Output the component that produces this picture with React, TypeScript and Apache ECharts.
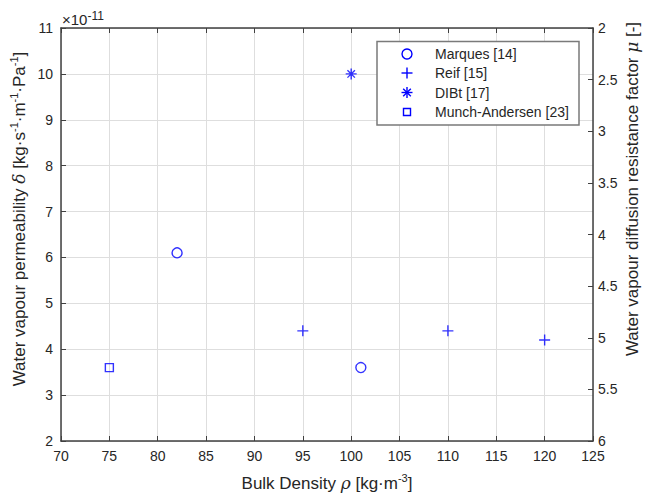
import React, { useEffect, useRef } from 'react';
import * as echarts from 'echarts';

// ---- data ----
const seriesNames = ['Marques [14]', 'Reif [15]', 'DIBt [17]', 'Munch-Andersen [23]'];
const marquesDensity = [82, 101];
const marquesPerm = [6.1, 3.6];
const reifDensity = [95, 110, 120];
const reifPerm = [4.4, 4.4, 4.2];
const dibtDensity = [100];
const dibtPerm = [10];
const munchDensity = [75];
const munchPerm = [3.6];

const densityMin = 70;
const densityMax = 125;
const densityStep = 5;
const permMin = 2;
const permMax = 11;
const permStep = 1;
const muMin = 2;
const muMax = 6;
const muStep = 0.5;

const zip = (xs: number[], ys: number[]) => xs.map((x, i) => [x, ys[i]]);

const FONT = 'Liberation Sans, Arial, sans-serif';
const TEXT = '#262626';
const AXIS = '#404040';
const BLUE = '#0000ff';

const plusPath = 'path://M0,5L10,5M5,0L5,10';
const starPath = 'path://M0,5L10,5M5,0L5,10M1.6,1.6L8.4,8.4M8.4,1.6L1.6,8.4';
const squarePath = 'path://M0,0L10,0L10,10L0,10Z';

export default function App() {
  const ref = useRef<HTMLDivElement>(null);
  useEffect(() => {
    document.body.style.margin = '0';
    if (!ref.current) return;
    const chart = echarts.init(ref.current, null, { renderer: 'svg' });
    const markerStyle = { color: 'rgba(0,0,0,0)', borderColor: BLUE, borderWidth: 1.4 };
    const supStyle = { fontSize: 11, fontFamily: FONT, verticalAlign: 'top' as const, lineHeight: 10, fill: TEXT };
    const greek = { fontSize: 17, fontFamily: 'DejaVu Serif, serif', fontStyle: 'italic' as const, fill: TEXT };
    const nameStyle = (text: string) => ({
      text,
      fontSize: 17,
      fontFamily: FONT,
      fill: TEXT,
      lineHeight: 22,
      align: 'center' as const,
      verticalAlign: 'middle' as const,
      rich: { s: supStyle, g: greek },
    });

    // legend drawn as a graphic group (box, icons, texts)
    const LZ = 100;
    const lgLeft = 377;
    const lgTop = 41.5;
    const lgW = 202;
    const lgH = 83.5;
    const rowY = [12.5, 31.5, 51, 70.5];
    const iconX = 30;
    const textX = 58;
    const iconStroke = { stroke: BLUE, lineWidth: 1.4, fill: 'none' };
    const seg = (x1: number, y1: number, x2: number, y2: number) => ({
      type: 'line',
      z: LZ + 1,
      shape: { x1, y1, x2, y2 },
      style: iconStroke,
    });
    const icons: any[] = [
      { type: 'circle', z: LZ + 1, shape: { cx: iconX, cy: rowY[0], r: 5 }, style: iconStroke },
      seg(iconX - 5.5, rowY[1], iconX + 5.5, rowY[1]),
      seg(iconX, rowY[1] - 5.5, iconX, rowY[1] + 5.5),
      seg(iconX - 5.5, rowY[2], iconX + 5.5, rowY[2]),
      seg(iconX, rowY[2] - 5.5, iconX, rowY[2] + 5.5),
      seg(iconX - 3.8, rowY[2] - 3.8, iconX + 3.8, rowY[2] + 3.8),
      seg(iconX + 3.8, rowY[2] - 3.8, iconX - 3.8, rowY[2] + 3.8),
      { type: 'rect', z: LZ + 1, shape: { x: iconX - 3.5, y: rowY[3] - 3.5, width: 7, height: 7 }, style: iconStroke },
    ];
    const legendTexts = seriesNames.map((name, i) => ({
      type: 'text',
      z: LZ + 1,
      x: textX,
      y: rowY[i],
      style: { text: name, fontSize: 14, fontFamily: FONT, fill: TEXT, align: 'left', verticalAlign: 'middle' },
    }));

    chart.setOption({
      animation: false,
      backgroundColor: '#fff',
      textStyle: { fontFamily: FONT, color: TEXT },
      grid: { left: 61, right: 57, top: 28, bottom: 57, outerBoundsMode: 'none' },
      xAxis: [
        {
          type: 'value',
          min: densityMin,
          max: densityMax,
          interval: densityStep,
          position: 'bottom',
          axisLine: { show: true, lineStyle: { color: AXIS, width: 1.5 } },
          axisTick: { show: true, inside: true, length: 5, lineStyle: { color: AXIS, width: 1 } },
          axisLabel: { color: TEXT, fontSize: 14, fontFamily: FONT, margin: 8 },
          splitLine: { show: true, lineStyle: { color: '#dedede', width: 1 } },
        },
        {
          type: 'value',
          min: densityMin,
          max: densityMax,
          interval: densityStep,
          position: 'top',
          axisLine: { show: true, lineStyle: { color: AXIS, width: 1.5 } },
          axisTick: { show: true, inside: true, length: 5, lineStyle: { color: AXIS, width: 1 } },
          axisLabel: { show: false },
          splitLine: { show: false },
        },
      ],
      yAxis: [
        {
          type: 'value',
          min: permMin,
          max: permMax,
          interval: permStep,
          position: 'left',
          axisLine: { show: true, lineStyle: { color: AXIS, width: 1.5 } },
          axisTick: { show: true, inside: true, length: 5, lineStyle: { color: AXIS, width: 1 } },
          axisLabel: { color: TEXT, fontSize: 14, fontFamily: FONT, margin: 8 },
          splitLine: { show: true, lineStyle: { color: '#dedede', width: 1 } },
        },
        {
          type: 'value',
          min: muMin,
          max: muMax,
          interval: muStep,
          inverse: true,
          position: 'right',
          axisLine: { show: true, lineStyle: { color: AXIS, width: 1.5 } },
          axisTick: { show: true, inside: true, length: 5, lineStyle: { color: AXIS, width: 1 } },
          axisLabel: { color: TEXT, fontSize: 14, fontFamily: FONT, margin: 5 },
          splitLine: { show: false },
        },
      ],
      series: [
        {
          name: seriesNames[0],
          type: 'scatter',
          symbol: 'circle',
          symbolSize: 10,
          itemStyle: markerStyle,
          data: zip(marquesDensity, marquesPerm),
        },
        {
          name: seriesNames[1],
          type: 'scatter',
          symbol: plusPath,
          symbolSize: 11,
          itemStyle: markerStyle,
          data: zip(reifDensity, reifPerm),
        },
        {
          name: seriesNames[2],
          type: 'scatter',
          symbol: starPath,
          symbolSize: 11,
          itemStyle: markerStyle,
          data: zip(dibtDensity, dibtPerm),
        },
        {
          name: seriesNames[3],
          type: 'scatter',
          symbol: squarePath,
          symbolSize: 8,
          symbolKeepAspect: true,
          itemStyle: markerStyle,
          data: zip(munchDensity, munchPerm),
        },
      ],
      graphic: [
        {
          type: 'group',
          x: lgLeft,
          y: lgTop,
          z: LZ,
          children: [
            {
              type: 'rect',
              z: LZ,
              shape: { x: 0, y: 0, width: lgW, height: lgH },
              style: { fill: '#ffffff', stroke: '#7a7a7a', lineWidth: 1.5 },
            },
            ...icons,
            ...legendTexts,
          ],
        },
        {
          type: 'text',
          x: 62,
          y: 19,
          style: {
            text: '×10{s|-11}',
            fontSize: 15,
            fontFamily: FONT,
            fill: TEXT,
            lineHeight: 18,
            align: 'left',
            verticalAlign: 'middle',
            rich: { s: { fontSize: 12, fontFamily: FONT, fill: TEXT, verticalAlign: 'top', lineHeight: 10 } },
          },
        },
        {
          type: 'text',
          x: 19,
          y: 219,
          rotation: Math.PI / 2,
          style: nameStyle('Water vapour permeability {g|δ} [kg·s{s|-1}·m{s|-1}·Pa{s|-1}]'),
        },
        {
          type: 'text',
          x: 632,
          y: 189,
          rotation: Math.PI / 2,
          style: nameStyle('Water vapour diffusion resistance factor {g|μ} [-]'),
        },
        {
          type: 'text',
          x: 327,
          y: 483,
          style: nameStyle('Bulk Density {g|ρ} [kg·m{s|-3}]'),
        },
      ],
    });
    return () => chart.dispose();
  }, []);
  return <div ref={ref} style={{ position: 'absolute', left: 0, top: 0, width: 650, height: 498 }} />;
}
